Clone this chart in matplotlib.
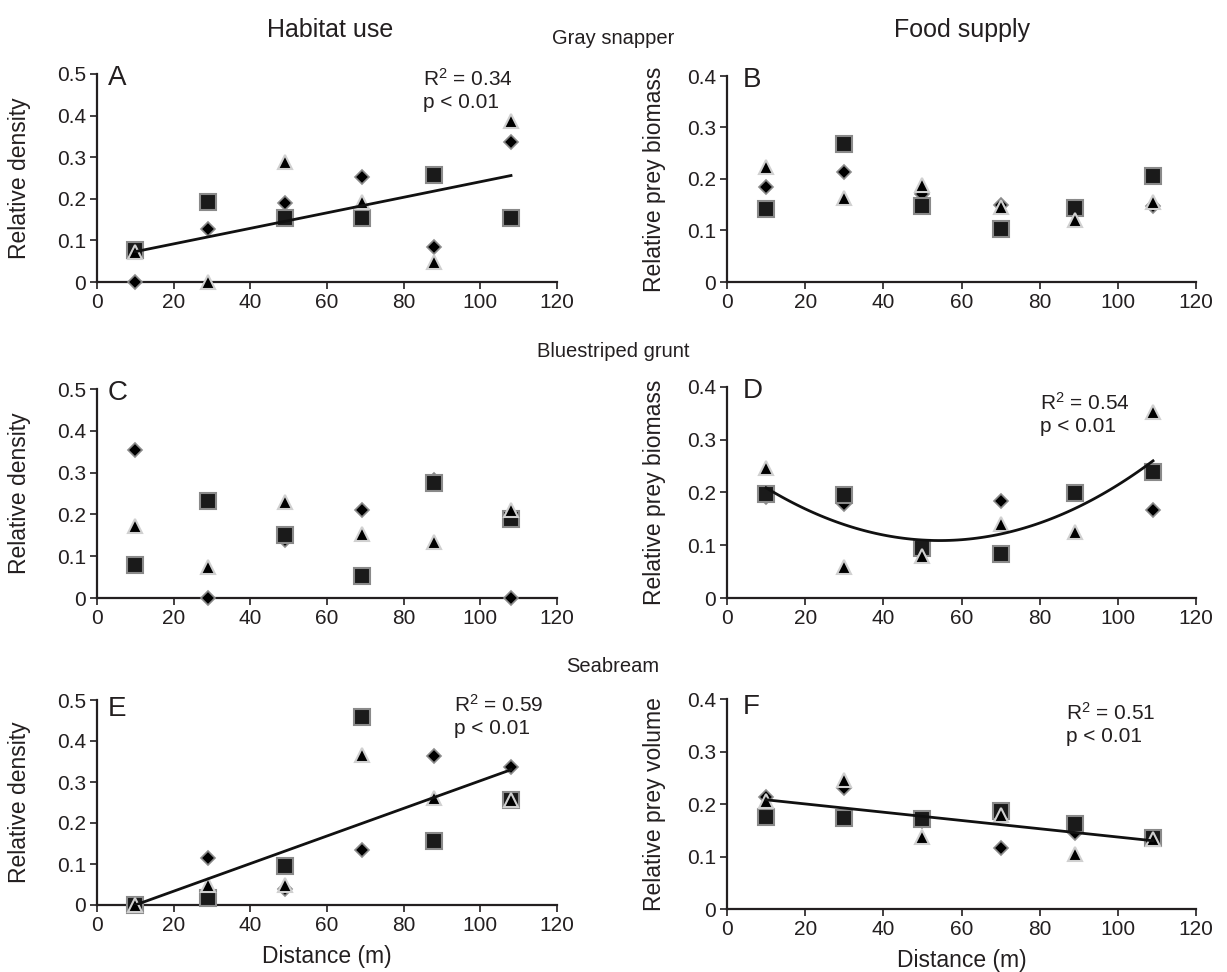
import numpy as np
import matplotlib.pyplot as plt

plt.rcParams['font.family'] = ['Liberation Sans', 'DejaVu Sans']
plt.rcParams['mathtext.fontset'] = 'custom'
plt.rcParams['mathtext.rm'] = 'Liberation Sans'
plt.rcParams['mathtext.it'] = 'Liberation Sans:italic'

INK = '#231f20'

# distances (m)
x_left = [10, 29, 49, 69, 88, 108]
x_right = [10, 30, 50, 70, 89, 109]

# A - gray snapper, habitat use
a_sq = [0.076, 0.193, 0.155, 0.155, 0.257, 0.155]
a_di = [0.0, 0.127, 0.190, 0.253, 0.085, 0.336]
a_tr = [0.073, 0.0, 0.288, 0.193, 0.049, 0.386]
# B - gray snapper, food supply
b_sq = [0.141, 0.267, 0.147, 0.102, 0.144, 0.205]
b_di = [0.184, 0.214, 0.170, 0.149, 0.145, 0.148]
b_tr = [0.223, 0.164, 0.188, 0.146, 0.120, 0.155]
# C - bluestriped grunt, habitat use
c_sq = [0.080, 0.233, 0.150, 0.053, 0.275, 0.190]
c_di = [0.354, 0.0, 0.138, 0.211, 0.282, 0.0]
c_tr = [0.172, 0.073, 0.230, 0.152, 0.133, 0.210]
# D - bluestriped grunt, food supply
d_sq = [0.197, 0.195, 0.094, 0.083, 0.199, 0.238]
d_di = [0.192, 0.179, 0.090, 0.184, 0.199, 0.167]
d_tr = [0.246, 0.059, 0.079, 0.140, 0.126, 0.353]
# E - seabream, habitat use
e_sq = [0.0, 0.018, 0.096, 0.458, 0.157, 0.257]
e_di = [0.0, 0.114, 0.040, 0.134, 0.363, 0.337]
e_tr = [0.0, 0.050, 0.050, 0.365, 0.260, 0.257]
# F - seabream, food supply
f_sq = [0.175, 0.174, 0.171, 0.187, 0.162, 0.136]
f_di = [0.213, 0.230, 0.168, 0.117, 0.145, 0.135]
f_tr = [0.205, 0.245, 0.138, 0.180, 0.105, 0.133]

# regression fits (polynomial coefficients, highest power first)
fit_a = [0.001867, 0.0543]
fit_d = [5.07e-5, -0.005517, 0.259]
fit_e = [0.003367, -0.03367]
fit_f = [-0.000788, 0.2159]

W, H = 1227, 972
fig = plt.figure(figsize=(W / 100, H / 100), dpi=100)


def make_ax(left, right, bottom, top):
    return fig.add_axes([left / W, 1 - bottom / H, (right - left) / W, (bottom - top) / H])


def style(ax, ymax, ylabel, label_x):
    ax.set_xlim(0, 120)
    ax.set_ylim(0, ymax)
    ax.set_xticks(range(0, 121, 20))
    yt = np.round(np.arange(0, ymax + 0.001, 0.1), 1)
    ax.set_yticks(yt)
    ax.set_yticklabels(['0' if v == 0 else f'{v:.1f}' for v in yt])
    for s in ['top', 'right']:
        ax.spines[s].set_visible(False)
    for s in ['left', 'bottom']:
        ax.spines[s].set_linewidth(1.6)
        ax.spines[s].set_color(INK)
    ax.tick_params(direction='out', length=5, width=1.2, colors=INK,
                   labelsize=15, pad=3)
    ax.set_ylabel(ylabel, fontsize=16.5, color=INK)
    ax.yaxis.set_label_coords(label_x, 0.5)
    ax.patch.set_alpha(0)


def points(ax, x, sq, di, tr):
    ax.plot(x, di, 'D', ms=7.5, mfc='black', mec='#8a8a8a', mew=1.2, clip_on=False, zorder=3)
    ax.plot(x, sq, 's', ms=11, mfc='#1a1a1a', mec='#8a8a8a', mew=1.5, clip_on=False, zorder=4)
    ax.plot(x, tr, '^', ms=10, mfc='black', mec='#d0d0d0', mew=1.5, clip_on=False, zorder=5)


def fit_line(ax, coef, x0, x1):
    xs = np.linspace(x0, x1, 100)
    ax.plot(xs, np.polyval(coef, xs), color='#111111', lw=2.0, zorder=6)


def stats(ax, x, y, r2):
    ax.text(x, y, 'R$^2$ = ' + r2 + '\np < 0.01', fontsize=15, color=INK,
            va='top', ha='left', linespacing=1.2)


ax_a = make_ax(97, 557, 282, 74)
ax_b = make_ax(727, 1196, 282, 76)
ax_c = make_ax(97, 557, 598, 389)
ax_d = make_ax(727, 1196, 598, 387)
ax_e = make_ax(97, 557, 905, 700)
ax_f = make_ax(727, 1196, 909, 699)

style(ax_a, 0.5, 'Relative density', -0.143)
style(ax_b, 0.4, 'Relative prey biomass', -0.130)
style(ax_c, 0.5, 'Relative density', -0.143)
style(ax_d, 0.4, 'Relative prey biomass', -0.130)
style(ax_e, 0.5, 'Relative density', -0.143)
style(ax_f, 0.4, 'Relative prey volume', -0.130)

points(ax_a, x_left, a_sq, a_di, a_tr)
points(ax_b, x_right, b_sq, b_di, b_tr)
points(ax_c, x_left, c_sq, c_di, c_tr)
points(ax_d, x_right, d_sq, d_di, d_tr)
points(ax_e, x_left, e_sq, e_di, e_tr)
points(ax_f, x_right, f_sq, f_di, f_tr)

fit_line(ax_a, fit_a, 10, 108)
fit_line(ax_d, fit_d, 10, 109)
fit_line(ax_e, fit_e, 10, 108)
fit_line(ax_f, fit_f, 10, 109)

stats(ax_a, 85, 0.515, '0.34')
stats(ax_d, 80, 0.39, '0.54')
stats(ax_e, 93, 0.515, '0.59')
stats(ax_f, 86.7, 0.395, '0.51')

for ax, letter, ytop in [(ax_a, 'A', 0.522), (ax_b, 'B', 0.418), (ax_c, 'C', 0.522),
                         (ax_d, 'D', 0.418), (ax_e, 'E', 0.51), (ax_f, 'F', 0.41)]:
    x0 = 2.9 if ax in (ax_a, ax_c, ax_e) else 4.1
    ax.text(x0, ytop, letter, fontsize=20, color=INK, va='top', ha='left')

ax_e.set_xlabel('Distance (m)', fontsize=16.5, color=INK, labelpad=7)
ax_f.set_xlabel('Distance (m)', fontsize=16.5, color=INK, labelpad=7)

fig.text(330 / W, 1 - 30 / H, 'Habitat use', fontsize=18, color=INK, ha='center', va='center')
fig.text(962 / W, 1 - 30 / H, 'Food supply', fontsize=18, color=INK, ha='center', va='center')
fig.text(613 / W, 1 - 38 / H, 'Gray snapper', fontsize=14.5, color=INK, ha='center', va='center')
fig.text(613 / W, 1 - 351 / H, 'Bluestriped grunt', fontsize=14.5, color=INK, ha='center', va='center')
fig.text(613 / W, 1 - 666 / H, 'Seabream', fontsize=14.5, color=INK, ha='center', va='center')

fig.savefig('out.png', dpi=100, facecolor='white')
